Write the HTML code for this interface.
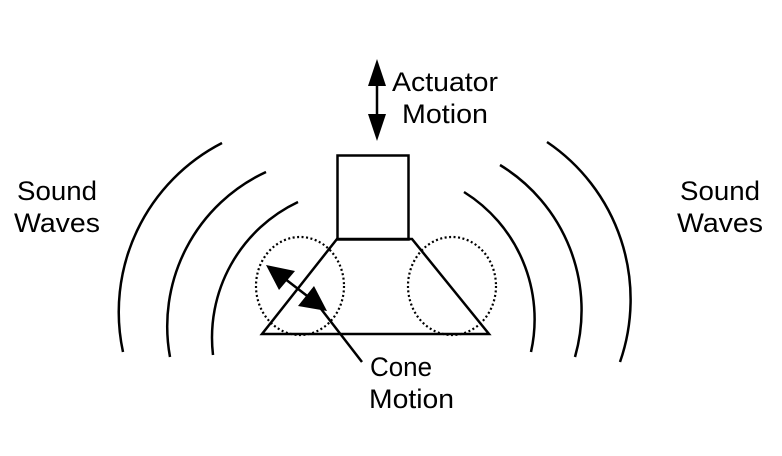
<!DOCTYPE html>
<html><head><style>html,body{margin:0;padding:0;background:#fff}svg{display:block}</style></head>
<body>
<svg width="782" height="456" viewBox="0 0 782 456" xmlns="http://www.w3.org/2000/svg">
<g fill="none" stroke="#000" stroke-width="2.5">
<rect x="337.5" y="155.5" width="71" height="84"/>
<polygon points="337,239 412,239 489,334 262,334"/>
<path d="M222,143 A190,190 0 0 0 123,352"/>
<path d="M266,172 A170,170 0 0 0 170,357"/>
<path d="M298,202 A150,150 0 0 0 213,355"/>
<path d="M547,142 A190,190 0 0 1 620,362"/>
<path d="M500,165 A170,170 0 0 1 575,357"/>
<path d="M464,192 A150,150 0 0 1 531,352"/>
</g>
<g fill="none" stroke="#000" stroke-width="2.2" stroke-dasharray="2,2.5">
<ellipse cx="300" cy="286" rx="44" ry="49"/>
<ellipse cx="452" cy="286" rx="44" ry="49"/>
</g>
<g stroke="#000" stroke-width="2.5">
<line x1="280" y1="275" x2="315" y2="302"/>
<line x1="318" y1="305" x2="362" y2="362"/>
<line x1="377" y1="75" x2="377" y2="125"/>
</g>
<g fill="#000">
<polygon points="266,265 295,271 279,290"/>
<polygon points="327,311 298,306 314,286"/>
<polygon points="377,59 368,86 386,86"/>
<polygon points="377,141 368,114 386,114"/>
</g>
<g font-family="Liberation Sans, Arial, sans-serif" font-size="27" fill="#000">
<text x="392" y="91" textLength="106" lengthAdjust="spacingAndGlyphs">Actuator</text>
<text x="402" y="123" textLength="86" lengthAdjust="spacingAndGlyphs">Motion</text>
<text x="17" y="200" textLength="80" lengthAdjust="spacingAndGlyphs">Sound</text>
<text x="14" y="232" textLength="86" lengthAdjust="spacingAndGlyphs">Waves</text>
<text x="680" y="200" textLength="80" lengthAdjust="spacingAndGlyphs">Sound</text>
<text x="677" y="232" textLength="86" lengthAdjust="spacingAndGlyphs">Waves</text>
<text x="370" y="376" textLength="62" lengthAdjust="spacingAndGlyphs">Cone</text>
<text x="369" y="408" textLength="85" lengthAdjust="spacingAndGlyphs">Motion</text>
</g>
</svg>
</body></html>
